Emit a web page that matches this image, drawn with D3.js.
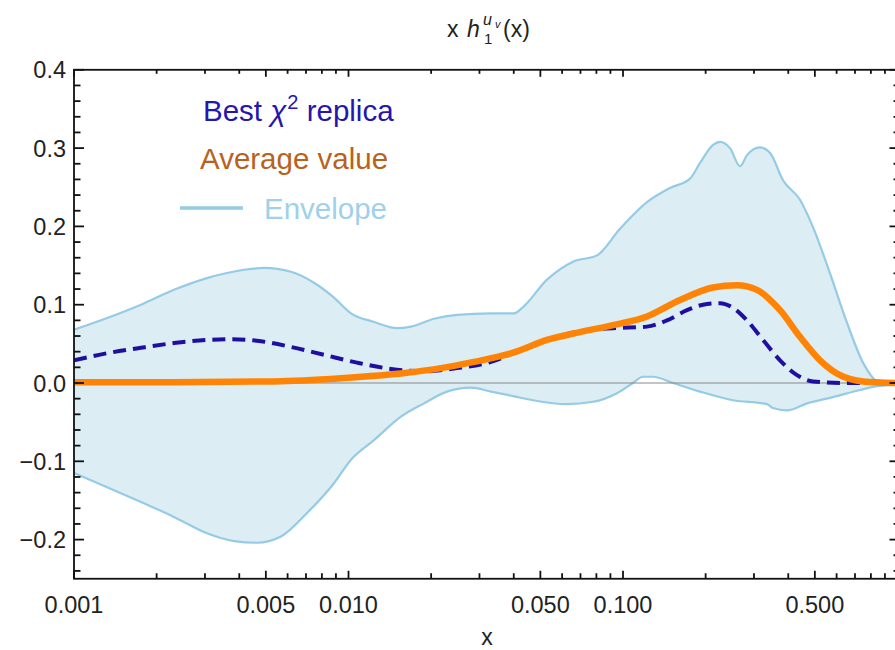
<!DOCTYPE html>
<html><head><meta charset="utf-8">
<script src="https://cdn.jsdelivr.net/npm/d3@7"></script>
<style>
body{margin:0;background:#fff}
text{font-family:"Liberation Sans",Arial,Helvetica,sans-serif;fill:#222}
</style></head>
<body><svg id="chart" width="895" height="650"></svg>
<script>
// ---- data ----
const upperX = [0.001,0.00132,0.001754,0.002313,0.003051,0.004059,0.004923,0.006173,0.007486,0.008855,0.01021,0.01238,0.01502,0.01689,0.02049,0.02485,0.03304,0.04009,0.04323,0.05286,0.06575,0.08043,0.09752,0.1223,0.1483,0.1754,0.1908,0.2128,0.2256,0.2454,0.2668,0.2829,0.3156,0.3431,0.3827,0.4414,0.4922,0.5677,0.6546,0.7487,0.8636,1.0];
const upperY = [0.068,0.083,0.100,0.119,0.134,0.144,0.147,0.142,0.128,0.109,0.089,0.078,0.070,0.072,0.082,0.087,0.089,0.089,0.097,0.132,0.155,0.163,0.197,0.231,0.249,0.261,0.281,0.304,0.308,0.300,0.277,0.291,0.301,0.294,0.259,0.234,0.199,0.140,0.077,0.026,0.000,-0.002];
const lowerX = [0.001,0.00132,0.001754,0.002313,0.003051,0.003828,0.004642,0.005677,0.007062,0.008855,0.01021,0.01238,0.01553,0.01884,0.02285,0.02795,0.03304,0.04009,0.04699,0.06252,0.07777,0.09508,0.1087,0.1183,0.1286,0.1521,0.1908,0.2516,0.3346,0.3518,0.3958,0.4681,0.5821,0.7301,0.8422,0.963,1.0];
const lowerY = [-0.115,-0.133,-0.152,-0.171,-0.192,-0.202,-0.204,-0.196,-0.166,-0.128,-0.098,-0.073,-0.043,-0.026,-0.011,-0.006,-0.011,-0.017,-0.022,-0.027,-0.024,-0.013,0.000,0.008,0.008,0.000,-0.011,-0.022,-0.027,-0.032,-0.035,-0.026,-0.018,-0.009,-0.004,-0.002,-0.001];
const bestX = [0.001,0.00132,0.001754,0.002313,0.003051,0.003732,0.004642,0.006173,0.008141,0.01074,0.01428,0.01884,0.02485,0.03304,0.03975,0.05286,0.06972,0.09196,0.1223,0.1446,0.1711,0.2023,0.2256,0.2516,0.2829,0.3236,0.3733,0.4305,0.4922,0.6546,0.8636,1.0];
const bestY = [0.029,0.038,0.045,0.051,0.055,0.056,0.054,0.046,0.036,0.026,0.018,0.015,0.019,0.027,0.038,0.055,0.066,0.070,0.072,0.080,0.093,0.101,0.102,0.096,0.080,0.055,0.029,0.010,0.002,0.000,0.000,0.000];
const avgX = [0.001,0.002313,0.005354,0.009391,0.01633,0.02173,0.02865,0.04009,0.05286,0.06972,0.09196,0.1223,0.1613,0.2128,0.2602,0.3077,0.3733,0.4414,0.5221,0.6173,0.7487,1.0];
const avgY = [0.001,0.001,0.002,0.006,0.013,0.019,0.027,0.039,0.055,0.065,0.074,0.085,0.106,0.122,0.125,0.119,0.093,0.059,0.029,0.010,0.002,0.000];

const xMajorTicks = [0.001,0.005,0.01,0.05,0.1,0.5,1];
const xLabelTicks = [0.001,0.005,0.01,0.05,0.1,0.5];
const xTickLabels = ["0.001","0.005","0.010","0.050","0.100","0.500"];
const xMinorTicks = [0.002,0.003,0.004,0.006,0.007,0.008,0.009,0.02,0.03,0.04,0.06,0.07,0.08,0.09,0.2,0.3,0.4,0.6,0.7,0.8,0.9];
const yMajorTicks = [-0.2,-0.1,0,0.1,0.2,0.3,0.4];
const yTickLabels = ["\u22120.2","\u22120.1","0.0","0.1","0.2","0.3","0.4"];
const yMinorTicks = [-0.24,-0.22,-0.18,-0.16,-0.14,-0.12,-0.08,-0.06,-0.04,-0.02,0.02,0.04,0.06,0.08,0.12,0.14,0.16,0.18,0.22,0.24,0.26,0.28,0.32,0.34,0.36,0.38];

// ---- layout ----
const svg = d3.select("#chart");
const L = 74, R = 897.5, T = 69.8, B = 578.75;
const x = d3.scaleLog().domain([0.001, 1]).range([L, R]);
const y = d3.scaleLinear().domain([-0.25, 0.4]).range([B, T]);

const col = {
  env: "#96cbe6", fill: "#dcedf4", best: "#1e0fa0", bestText: "#2416ae",
  avg: "#ff8405", avgText: "#b8621c", envText: "#9fd0ec"
};

const zipd = (xs, ys) => xs.map((v, i) => [v, ys[i]]);
const line = d3.line().x(d => x(d[0])).y(d => y(d[1])).curve(d3.curveMonotoneX);

const up = zipd(upperX, upperY), lo = zipd(lowerX, lowerY);
svg.append("defs").append("clipPath").attr("id", "pc")
  .append("rect").attr("x", L).attr("y", T).attr("width", R - L).attr("height", B - T);
const g = svg.append("g").attr("clip-path", "url(#pc)");

// envelope fill
const dUp = line(up);
const dLo = line(lo.slice().reverse()).replace(/^M/, "L");
g.append("path").attr("d", dUp + dLo + "Z").attr("fill", col.fill).attr("stroke", "none");
g.append("path").attr("d", dUp).attr("fill", "none").attr("stroke", col.env).attr("stroke-width", 2.2);
g.append("path").attr("d", line(lo)).attr("fill", "none").attr("stroke", col.env).attr("stroke-width", 2.2);

// zero line
g.append("line").attr("x1", L).attr("x2", R).attr("y1", y(0)).attr("y2", y(0))
  .attr("stroke", "#8a8a8a").attr("stroke-width", 1.2);

// best replica
g.append("path").attr("d", line(zipd(bestX, bestY))).attr("fill", "none")
  .attr("stroke", col.best).attr("stroke-width", 4).attr("stroke-dasharray", "13,7");
// average
g.append("path").attr("d", line(zipd(avgX, avgY))).attr("fill", "none")
  .attr("stroke", col.avg).attr("stroke-width", 6.5).attr("stroke-linecap", "round");

// ---- frame and ticks ----
const ax = svg.append("g").attr("stroke", "#111");
ax.append("rect").attr("x", L).attr("y", T).attr("width", R - L).attr("height", B - T)
  .attr("fill", "none").attr("stroke-width", 1.8);

function vt(vals, yy, len) {
  ax.selectAll(null).data(vals).enter().append("line")
    .attr("x1", d => x(d)).attr("x2", d => x(d)).attr("y1", yy).attr("y2", yy + len)
    .attr("stroke-width", 1.8);
}
function ht(vals, xx, len) {
  ax.selectAll(null).data(vals).enter().append("line")
    .attr("y1", d => y(d)).attr("y2", d => y(d)).attr("x1", xx).attr("x2", xx + len)
    .attr("stroke-width", 1.8);
}
vt(xMajorTicks, B, -8); vt(xMinorTicks, B, -5.5);
vt(xMajorTicks, T, 7); vt(xMinorTicks, T, 4);
ht(yMajorTicks, L, 10); ht(yMinorTicks, L, 6.5);
ht(yMajorTicks, R, -8); ht(yMinorTicks, R, -4);

// tick labels
svg.selectAll(null).data(xLabelTicks).enter().append("text")
  .attr("x", d => x(d)).attr("y", 613).attr("text-anchor", "middle")
  .attr("font-size", 23.5).text((d, i) => xTickLabels[i]);
svg.selectAll(null).data(yMajorTicks).enter().append("text")
  .attr("x", 66).attr("y", d => y(d) + 8.5).attr("text-anchor", "end")
  .attr("font-size", 23.5).text((d, i) => yTickLabels[i]);

// axis label
svg.append("text").attr("x", 487).attr("y", 645).attr("text-anchor", "middle")
  .attr("font-size", 23).text("x");

// title: x h_1^{u_v}(x)
svg.append("text").attr("x", 447).attr("y", 37).attr("font-size", 23).text("x");
svg.append("text").attr("x", 467).attr("y", 37).attr("font-size", 23).attr("font-style", "italic").text("h");
svg.append("text").attr("x", 484).attr("y", 44).attr("font-size", 15).text("1");
svg.append("text").attr("x", 483).attr("y", 25).attr("font-size", 16).attr("font-style", "italic").text("u");
svg.append("text").attr("x", 495).attr("y", 28).attr("font-size", 11).attr("font-style", "italic").text("v");
svg.append("text").attr("x", 503).attr("y", 37).attr("font-size", 23).text("(x)");

// legend
const lg = svg.append("g");
const t1 = lg.append("text").attr("x", 203).attr("y", 121).attr("font-size", 29.5).style("fill", col.bestText);
t1.append("tspan").text("Best ");
t1.append("tspan").attr("font-style", "italic").text("\u03C7");
t1.append("tspan").attr("font-size", 20).attr("dy", -12).attr("dx", 1).text("2");
t1.append("tspan").attr("dy", 12).text(" replica");
lg.append("text").attr("x", 200).attr("y", 169).attr("font-size", 29.5).style("fill", col.avgText).text("Average value");
lg.append("line").attr("x1", 180).attr("x2", 243).attr("y1", 208).attr("y2", 208)
  .attr("stroke", col.env).attr("stroke-width", 3.5);
lg.append("text").attr("x", 264).attr("y", 219).attr("font-size", 29.5).style("fill", col.envText).text("Envelope");
</script></body></html>
